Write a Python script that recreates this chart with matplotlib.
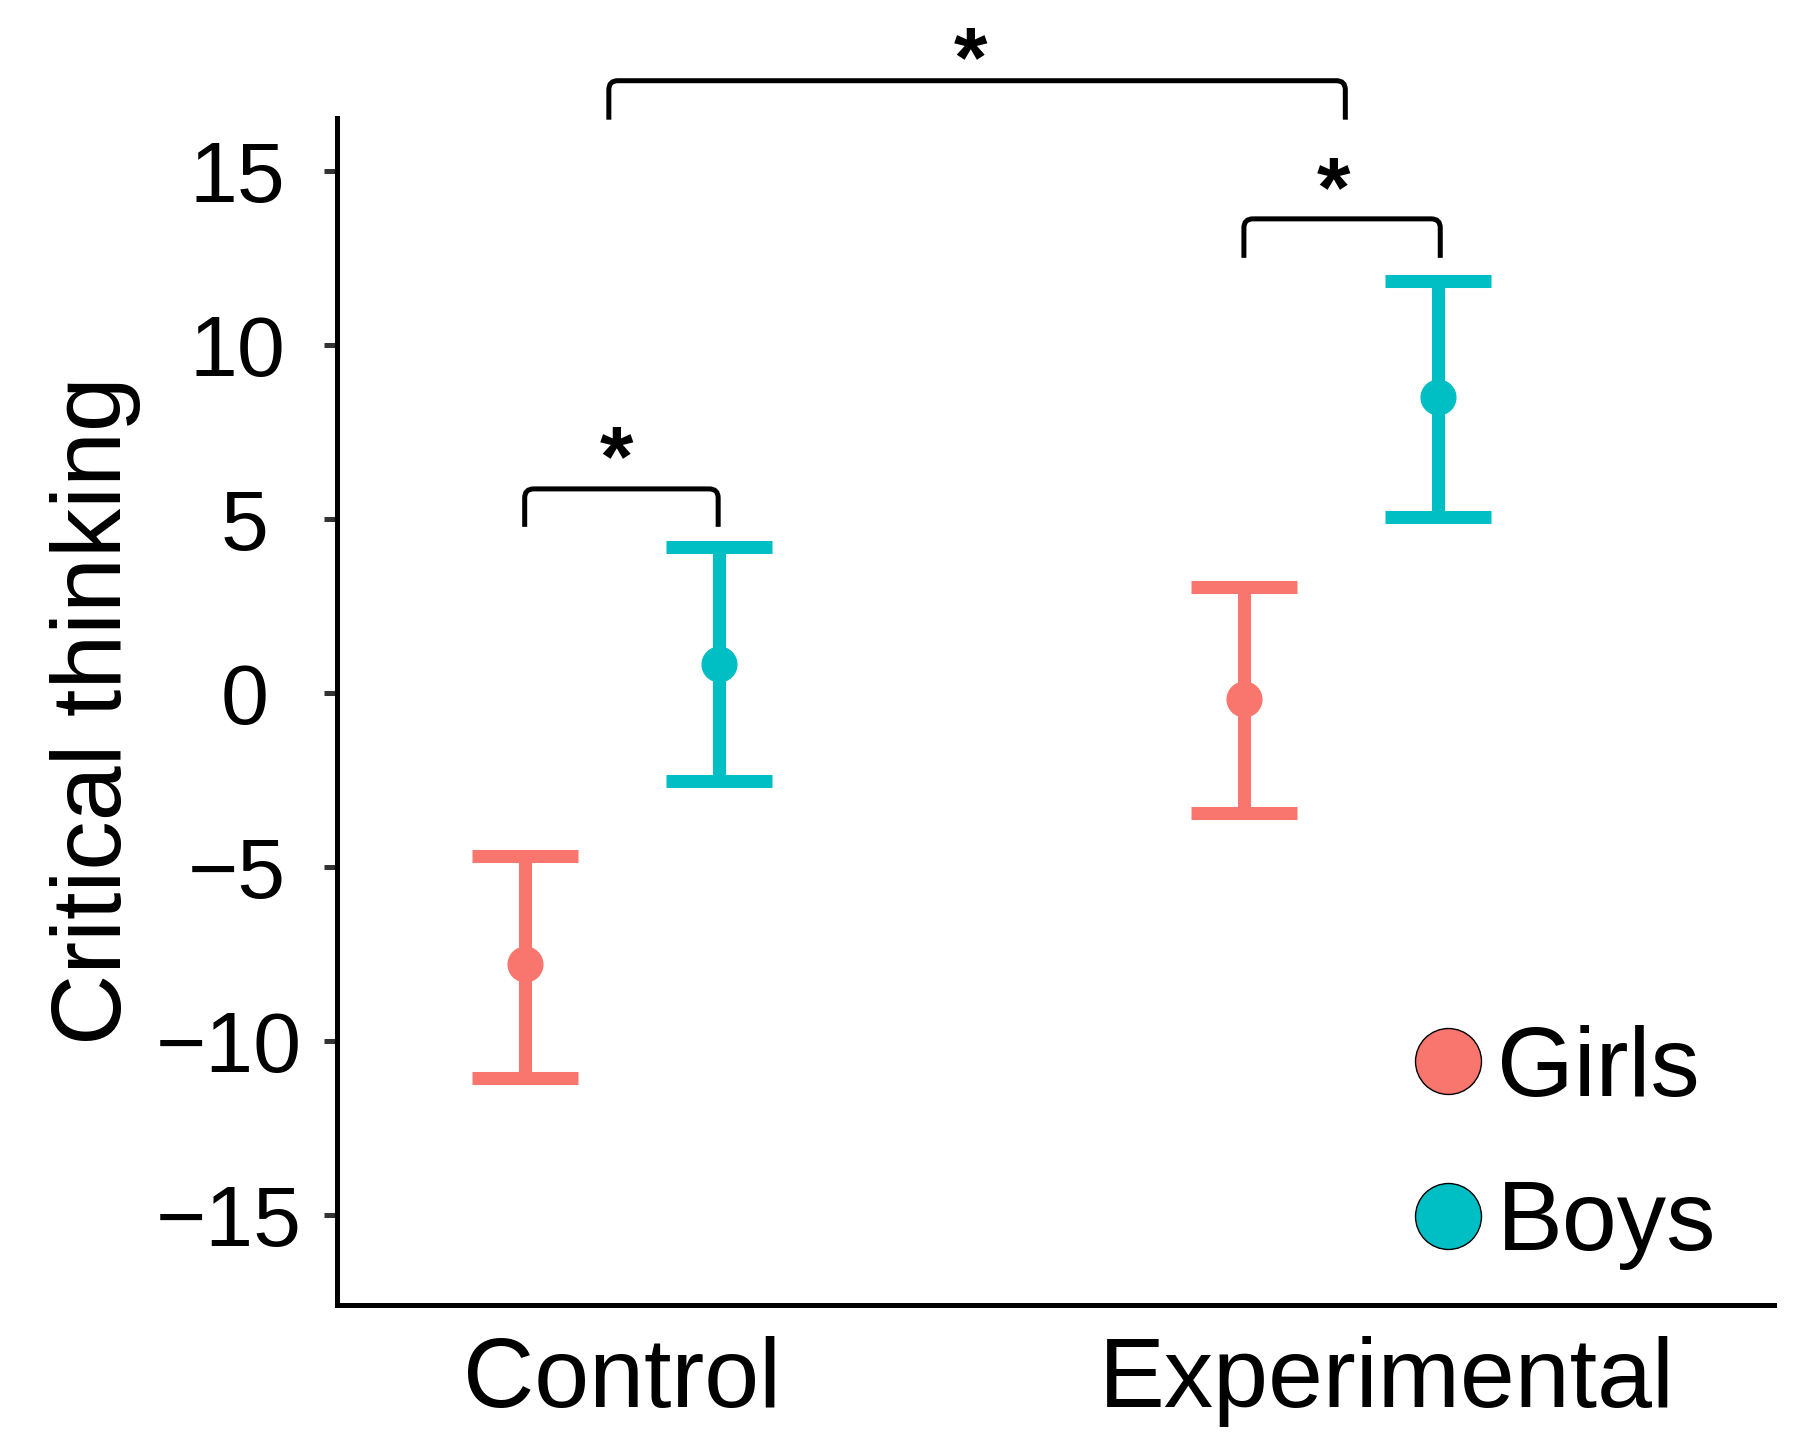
import numpy as np
import matplotlib
matplotlib.use('Agg')
import matplotlib.pyplot as plt
from matplotlib.path import Path
from matplotlib.patches import PathPatch
from matplotlib.lines import Line2D
from matplotlib.transforms import ScaledTranslation

plt.rcParams['font.family'] = ['Liberation Sans', 'DejaVu Sans']

# data (mean and error bar ends)
groups = ['Control', 'Experimental']
sexes = ['Girls', 'Boys']
colors = ['#F8766D', '#00BFC4']
girls_mean = [-7.79, -0.17]
girls_low = [-11.06, -3.45]
girls_high = [-4.68, 3.05]
boys_mean = [0.83, 8.51]
boys_low = [-2.53, 5.06]
boys_high = [4.20, 11.84]
yticks = [-15, -10, -5, 0, 5, 10, 15]

# significance brackets: left, right, leg bottom, bracket top, star centre, label
sig_left = [0.865, 1.865, 0.982]
sig_right = [1.134, 2.138, 2.006]
sig_leg = [4.77, 12.50, 16.47]
sig_top = [5.86, 13.62, 17.59]
sig_star_x = [0.992, 1.990, 1.485]
sig_star_y = [7.21, 14.94, 18.68]
sig_label = ['*', '*', '*']

DPI = 100
fig = plt.figure(figsize=(18.03, 14.49), dpi=DPI)
ax = fig.add_axes([0.1869, 0.0994, 0.797, 0.8192])

dodge = 0.135
xpos = np.arange(1, len(groups) + 1)
series = [(girls_mean, girls_low, girls_high), (boys_mean, boys_low, boys_high)]
for k, (m, lo, hi) in enumerate(series):
    m = np.array(m); lo = np.array(lo); hi = np.array(hi)
    xs = xpos + (-dodge if k == 0 else dodge)
    ax.errorbar(xs, m, yerr=[m - lo, hi - m], fmt='o', color=colors[k],
                ms=25, elinewidth=9.4, capsize=38.5, capthick=9.4, zorder=3)

ax.set_xlim(0.604, 2.602)
ax.set_ylim(-17.59, 16.52)
ax.set_yticks(yticks)
# Experimental label sits a bit to the right of its group in the original
ax.set_xticks([1.0, 2.064])
ax.set_xticklabels(groups, fontsize=71)
ax.tick_params(axis='x', length=0, pad=22)
ax.tick_params(axis='y', length=9.4, width=3.6, color='#333333', pad=31, labelsize=62)
for s in ['top', 'right']:
    ax.spines[s].set_visible(False)
for s in ['left', 'bottom']:
    ax.spines[s].set_linewidth(3.6)
    ax.spines[s].set_color('black')

fig.text(121 / 1803, 1 - 711 / 1449, 'Critical thinking', rotation=90, fontsize=71,
         ha='center', va='baseline', rotation_mode='anchor')

fig.canvas.draw()
renderer = fig.canvas.get_renderer()

# y tick labels in the original are justified at about 2/3 of their width
for lab in ax.get_yticklabels():
    bb = lab.get_window_extent(renderer)
    want_right = 252 + 0.343 * bb.width
    dx = (want_right - bb.x1) / DPI
    lab.set_transform(lab.get_transform() + ScaledTranslation(dx, 0, fig.dpi_scale_trans))

# brackets with small rounded corners
p0 = ax.transData.transform((0, 0))
p1 = ax.transData.transform((1, 1))
rx = 9 / (p1[0] - p0[0])
ry = 9 / (p1[1] - p0[1])
star_fs = 62
for x0, x1, yl, yt, sx, sy, lab in zip(sig_left, sig_right, sig_leg, sig_top,
                                       sig_star_x, sig_star_y, sig_label):
    verts = [(x0, yl), (x0, yt - ry), (x0, yt), (x0 + rx, yt),
             (x1 - rx, yt), (x1, yt), (x1, yt - ry), (x1, yl)]
    codes = [Path.MOVETO, Path.LINETO, Path.CURVE3, Path.CURVE3,
             Path.LINETO, Path.CURVE3, Path.CURVE3, Path.LINETO]
    ax.add_patch(PathPatch(Path(verts, codes), fill=False, lw=3.6, color='black',
                           clip_on=False, capstyle='butt'))
    ax.annotate(lab, xy=(sx, sy), xytext=(0, -0.5 * star_fs), textcoords='offset points',
                ha='center', va='baseline', fontsize=star_fs, fontweight='bold',
                annotation_clip=False)

handles = [Line2D([], [], marker='o', linestyle='none', markersize=47.5,
                  markerfacecolor=c, markeredgecolor='black', markeredgewidth=1.0)
           for c in colors]
ax.legend(handles, sexes, loc='upper left', bbox_to_anchor=(1413 / 1803, 1 - 1025 / 1449),
          bbox_transform=fig.transFigure, frameon=False, fontsize=71, borderpad=0,
          handlelength=0.7, handletextpad=0.15, labelspacing=0.64, borderaxespad=0)

fig.savefig('out.png', dpi=DPI)
